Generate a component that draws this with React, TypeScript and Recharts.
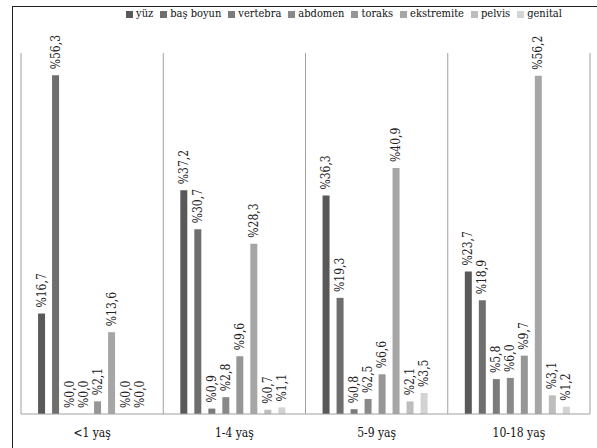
import { BarChart, Bar, XAxis, YAxis, CartesianGrid, LabelList } from "recharts";

const ageGroups = ["<1 yaş", "1-4 yaş", "5-9 yaş", "10-18 yaş"];

const regions = ["yüz", "baş boyun", "vertebra", "abdomen", "toraks", "ekstremite", "pelvis", "genital"];

const yuz = [16.7, 37.2, 36.3, 23.7];
const basBoyun = [56.3, 30.7, 19.3, 18.9];
const vertebra = [0.0, 0.9, 0.8, 5.8];
const abdomen = [0.0, 2.8, 2.5, 6.0];
const toraks = [2.1, 9.6, 6.6, 9.7];
const ekstremite = [13.6, 28.3, 40.9, 56.2];
const pelvis = [0.0, 0.7, 2.1, 3.1];
const genital = [0.0, 1.1, 3.5, 1.2];

const seriesValues = [yuz, basBoyun, vertebra, abdomen, toraks, ekstremite, pelvis, genital];
const colors = ["#595959", "#6e6e6e", "#7b7b7b", "#898989", "#969696", "#a6a6a6", "#bdbdbd", "#d3d3d3"];

const data = ageGroups.map((age, i) => {
    const row: Record<string, string | number> = { age };
    regions.forEach((r, j) => {
        row[r] = seriesValues[j][i];
    });
    return row;
});

const FONT = "'DejaVu Serif Condensed', 'DejaVu Serif', serif";

function ValueLabel(props: any) {
    const { x, y, width, value } = props;
    const cx = x + width / 2;
    const ty = y - 6;
    return (
        <text
            x={cx}
            y={ty}
            transform={`rotate(-90, ${cx}, ${ty})`}
            textAnchor="start"
            dominantBaseline="central"
            style={{ fontFamily: FONT }}
            fontSize={12}
            fill="#222"
        >
            {"%" + Number(value).toFixed(1).replace(".", ",")}
        </text>
    );
}

export default function App() {
    return (
        <div style={{ position: "absolute", left: 0, top: 0, width: 597, height: 448, background: "#fff", overflow: "hidden" }}>
            <div
                style={{
                    position: "absolute",
                    left: 12,
                    top: 6,
                    width: 620,
                    height: 480,
                    border: "1px solid #222",
                }}
            />
            <div
                style={{
                    position: "absolute",
                    top: 6,
                    left: 0,
                    width: 688,
                    display: "flex",
                    justifyContent: "center",
                    gap: 7,
                    fontFamily: FONT,
                    fontSize: 11,
                    color: "#111",
                    lineHeight: "16px",
                }}
            >
                {regions.map((r, j) => (
                    <span key={r} style={{ display: "flex", alignItems: "center" }}>
                        <span style={{ display: "inline-block", width: 7, height: 7, background: colors[j], marginRight: 3 }} />
                        {r}
                    </span>
                ))}
            </div>
            <BarChart
                width={597}
                height={448}
                data={data}
                margin={{ top: 53, right: 7, bottom: 0, left: 21 }}
                barCategoryGap="12%"
                barGap={7}
                style={{ position: "absolute", left: 0, top: 0 }}
            >
                <CartesianGrid
                    horizontal={false}
                    stroke="#a0a0a0"
                    verticalCoordinatesGenerator={({ offset }: any) =>
                        ageGroups.map((_, i) => offset.left + (offset.width * i) / ageGroups.length).concat(offset.left + offset.width)
                    }
                />
                <XAxis
                    dataKey="age"
                    height={34}
                    tickLine={false}
                    axisLine={{ stroke: "#a0a0a0" }}
                    tick={{ fontSize: 12, fill: "#111", style: { fontFamily: FONT } }}
                    tickMargin={8}
                />
                <YAxis hide domain={[0, 60]} />
                {regions.map((r, j) => (
                    <Bar key={r} dataKey={r} fill={colors[j]} minPointSize={0.01} isAnimationActive={false}>
                        <LabelList dataKey={r} content={<ValueLabel />} />
                    </Bar>
                ))}
            </BarChart>
        </div>
    );
}
